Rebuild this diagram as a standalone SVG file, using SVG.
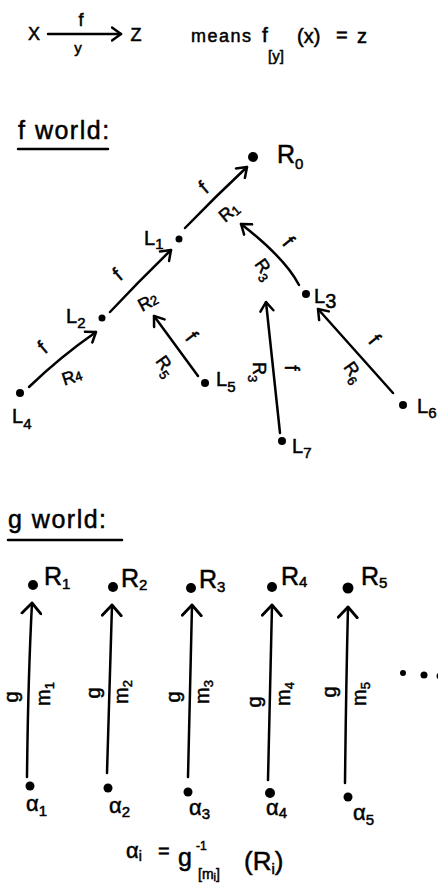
<svg xmlns="http://www.w3.org/2000/svg" width="438" height="884" viewBox="0 0 438 884">
<style>
text{font-family:"Liberation Sans","DejaVu Sans",sans-serif;fill:#000;stroke:#000;stroke-width:0.5px}
.ln{stroke:#000;stroke-width:2.5;fill:none;stroke-linecap:round}
.ul{stroke:#000;stroke-width:2.5;fill:none;stroke-linecap:round}
.dot{fill:#000}
.ttl{font-size:25px;letter-spacing:1.5px}
.lab{font-size:20px}
.sub{font-size:15px}
.el{font-size:20px}
.els{font-size:18px}
.es{font-size:13px}
.big{font-size:25px}
</style>
<defs>
<marker id="ah" viewBox="0 0 12 16" refX="10.5" refY="8" markerWidth="12" markerHeight="16" markerUnits="userSpaceOnUse" orient="auto"><path d="M1.5,1.5 L10.5,8 L1.5,14.5" fill="none" stroke="#000" stroke-width="2.5" stroke-linecap="round" stroke-linejoin="round"/></marker>
<marker id="ahg" viewBox="0 0 14 22" refX="12" refY="11" markerWidth="14" markerHeight="22" markerUnits="userSpaceOnUse" orient="auto"><path d="M1.5,1.5 L12,11 L1.5,20.5" fill="none" stroke="#000" stroke-width="2.8" stroke-linecap="round" stroke-linejoin="round"/></marker>
</defs>

<g id="legend">
<text x="34" y="40" font-size="18" text-anchor="middle">X</text>
<line class="ln" x1="48" y1="34" x2="121" y2="34" marker-end="url(#ah)"/>
<text x="81" y="26" font-size="18" text-anchor="middle">f</text>
<text x="78" y="53" font-size="15" text-anchor="middle">y</text>
<text x="136" y="41" font-size="18" text-anchor="middle">Z</text>
<text x="191" y="42" font-size="18" letter-spacing="1.5">means</text>
<text x="262" y="42" font-size="21">f</text>
<text x="268" y="61" font-size="15">[y]</text>
<text x="297" y="43" font-size="20">(x)</text>
<text x="336" y="42" font-size="20">=</text>
<text x="357" y="43" font-size="20">z</text>
</g>

<g id="f-world-title">
<text class="ttl" x="18" y="139">f world:</text>
<line class="ul" x1="18" y1="149" x2="108" y2="149"/>
</g>

<g id="R0"><circle class="dot" cx="253" cy="157" r="5"/><text x="277" y="163" class="big">R<tspan class="sub" dy="6">0</tspan></text></g>
<g id="L1"><circle class="dot" cx="179" cy="239" r="3.5"/><text x="144" y="245" class="lab">L<tspan class="sub" dy="4">1</tspan></text></g>
<g id="L2"><circle class="dot" cx="102" cy="318" r="3.5"/><text x="66" y="323" class="lab">L<tspan class="sub" dy="5">2</tspan></text></g>
<g id="L3"><circle class="dot" cx="306" cy="294" r="4"/><text x="314" y="303" class="lab">L<tspan class="lab" dy="5">3</tspan></text></g>
<g id="L4"><circle class="dot" cx="20" cy="393" r="4"/><text x="12" y="423" class="lab">L<tspan class="sub" dy="6">4</tspan></text></g>
<g id="L5"><circle class="dot" cx="205" cy="383" r="4"/><text x="216" y="386" class="lab">L<tspan class="sub" dy="6">5</tspan></text></g>
<g id="L6"><circle class="dot" cx="403" cy="405" r="4"/><text x="417" y="413" class="lab">L<tspan class="sub" dy="5">6</tspan></text></g>
<g id="L7"><circle class="dot" cx="282" cy="441" r="4"/><text x="292" y="453" class="lab">L<tspan class="sub" dy="5">7</tspan></text></g>

<g id="g-world-title">
<text class="ttl" x="8" y="528" font-size="28" letter-spacing="2">g world:</text>
<line class="ul" x1="8" y1="540" x2="122" y2="540"/>
</g>

<g id="R1"><circle class="dot" cx="33" cy="585" r="5"/><text x="44" y="585" class="big">R<tspan class="sub" dy="4">1</tspan></text></g>
<g id="R2"><circle class="dot" cx="113" cy="587" r="5"/><text x="121" y="587" class="big">R<tspan class="sub" dy="3">2</tspan></text></g>
<g id="R3"><circle class="dot" cx="191" cy="588" r="5"/><text x="199" y="588" class="big">R<tspan class="sub" dy="4">3</tspan></text></g>
<g id="R4"><circle class="dot" cx="272" cy="587" r="5"/><text x="281" y="585" class="big">R<tspan class="sub" dy="2">4</tspan></text></g>
<g id="R5"><circle class="dot" cx="348" cy="588" r="5.5"/><text x="361" y="585" class="big">R<tspan class="sub" dy="3">5</tspan></text></g>

<g id="a1"><circle class="dot" cx="30" cy="786" r="4.5"/><text x="26" y="811" font-size="22">α<tspan class="sub" dy="5">1</tspan></text></g>
<g id="a2"><circle class="dot" cx="108" cy="788" r="4.5"/><text x="109" y="813" font-size="22">α<tspan class="sub" dy="4">2</tspan></text></g>
<g id="a3"><circle class="dot" cx="188" cy="792" r="4.5"/><text x="189" y="815" font-size="22">α<tspan class="sub" dy="4">3</tspan></text></g>
<g id="a4"><circle class="dot" cx="270" cy="793" r="5"/><text x="266" y="815" font-size="22">α<tspan class="sub" dy="3">4</tspan></text></g>
<g id="a5"><circle class="dot" cx="348" cy="797" r="4.5"/><text x="353" y="820" font-size="22">α<tspan class="sub" dy="5">5</tspan></text></g>

<g id="ellipsis">
<circle class="dot" cx="403" cy="673" r="3"/>
<circle class="dot" cx="424" cy="675" r="3.5"/>
<circle class="dot" cx="440" cy="676" r="3.5"/>
</g>

<g id="formula">
<text x="126" y="858" font-size="22">α<tspan font-size="14" dy="3">i</tspan></text>
<text x="158" y="858" font-size="20">=</text>
<text x="178" y="866" font-size="25">g</text>
<text x="196" y="850" font-size="12">-1</text>
<text x="198" y="879" font-size="14">[m<tspan font-size="11" dy="2">i</tspan><tspan dy="-2">]</tspan></text>
<text x="244" y="870" font-size="26">(R<tspan font-size="15" dy="4">i</tspan><tspan dy="-4">)</tspan></text>
</g>

<g id="connectors">
<path class="ln" d="M29,387 Q60,357 96,332" marker-end="url(#ah)"/>
<path class="ln" d="M110,312 Q140,280 171,250" marker-end="url(#ah)"/>
<path class="ln" d="M185,228 Q215,197 247,167" marker-end="url(#ah)"/>
<path class="ln" d="M198,376 L154,316" marker-end="url(#ah)"/>
<path class="ln" d="M299,285 Q285,258 241,224" marker-end="url(#ah)"/>
<path class="ln" d="M393,393 L318,309" marker-end="url(#ah)"/>
<path class="ln" d="M280,433 Q273,370 266,302" marker-end="url(#ah)"/>
<text class="el" text-anchor="middle" transform="translate(43,348) rotate(-40)" dy="6">f</text>
<text class="els" text-anchor="middle" transform="translate(72,377) rotate(-18)" dy="6">R<tspan class="es" dy="0">4</tspan></text>
<text class="el" text-anchor="middle" transform="translate(118,275) rotate(-40)" dy="6">f</text>
<text class="els" text-anchor="middle" transform="translate(148,302) rotate(-28)" dy="6">R<tspan class="es" dy="0">2</tspan></text>
<text class="el" text-anchor="middle" transform="translate(204,188) rotate(-40)" dy="6">f</text>
<text class="els" text-anchor="middle" transform="translate(229,212) rotate(-40)" dy="6">R<tspan class="es" dy="2">1</tspan></text>
<text class="el" text-anchor="middle" transform="translate(191,337) rotate(52)" dy="6">f</text>
<text class="els" text-anchor="middle" transform="translate(164,367) rotate(55)" dy="4">R<tspan class="es" dy="5">5</tspan></text>
<text class="el" text-anchor="middle" transform="translate(288,242) rotate(50)" dy="6">f</text>
<text class="els" text-anchor="middle" transform="translate(263,270) rotate(55)" dy="4">R<tspan class="es" dy="5">3</tspan></text>
<text class="el" text-anchor="middle" transform="translate(374,340) rotate(50)" dy="6">f</text>
<text class="els" text-anchor="middle" transform="translate(352,373) rotate(55)" dy="4">R<tspan class="es" dy="5">6</tspan></text>
<text class="el" text-anchor="middle" transform="translate(291,368) rotate(90)" dy="6">f</text>
<text class="els" text-anchor="middle" transform="translate(257,372) rotate(90)" dy="4">R<tspan class="es" dy="5">3</tspan></text>
<path class="ln" d="M27,777 Q28,680 32,603" marker-end="url(#ahg)"/>
<path class="ln" d="M107,773 Q110,680 112,605" marker-end="url(#ahg)"/>
<path class="ln" d="M188,777 L192,605" marker-end="url(#ahg)"/>
<path class="ln" d="M268,780 Q270,690 272,605" marker-end="url(#ahg)"/>
<path class="ln" d="M345,783 Q346,690 348,607" marker-end="url(#ahg)"/>
<text font-size="20" text-anchor="middle" transform="translate(18,697) rotate(-90)">g</text>
<text font-size="20" transform="translate(50,706) rotate(-90)">m<tspan font-size="13" dy="4">1</tspan></text>
<text font-size="20" text-anchor="middle" transform="translate(100,693) rotate(-90)">g</text>
<text font-size="20" transform="translate(128,704) rotate(-90)">m<tspan font-size="13" dy="4">2</tspan></text>
<text font-size="20" text-anchor="middle" transform="translate(180,697) rotate(-90)">g</text>
<text font-size="20" transform="translate(209,704) rotate(-90)">m<tspan font-size="13" dy="4">3</tspan></text>
<text font-size="20" text-anchor="middle" transform="translate(261,702) rotate(-90)">g</text>
<text font-size="20" transform="translate(290,706) rotate(-90)">m<tspan font-size="13" dy="4">4</tspan></text>
<text font-size="20" text-anchor="middle" transform="translate(336,692) rotate(-90)">g</text>
<text font-size="20" transform="translate(366,706) rotate(-90)">m<tspan font-size="13" dy="4">5</tspan></text>
</g>
</svg>
